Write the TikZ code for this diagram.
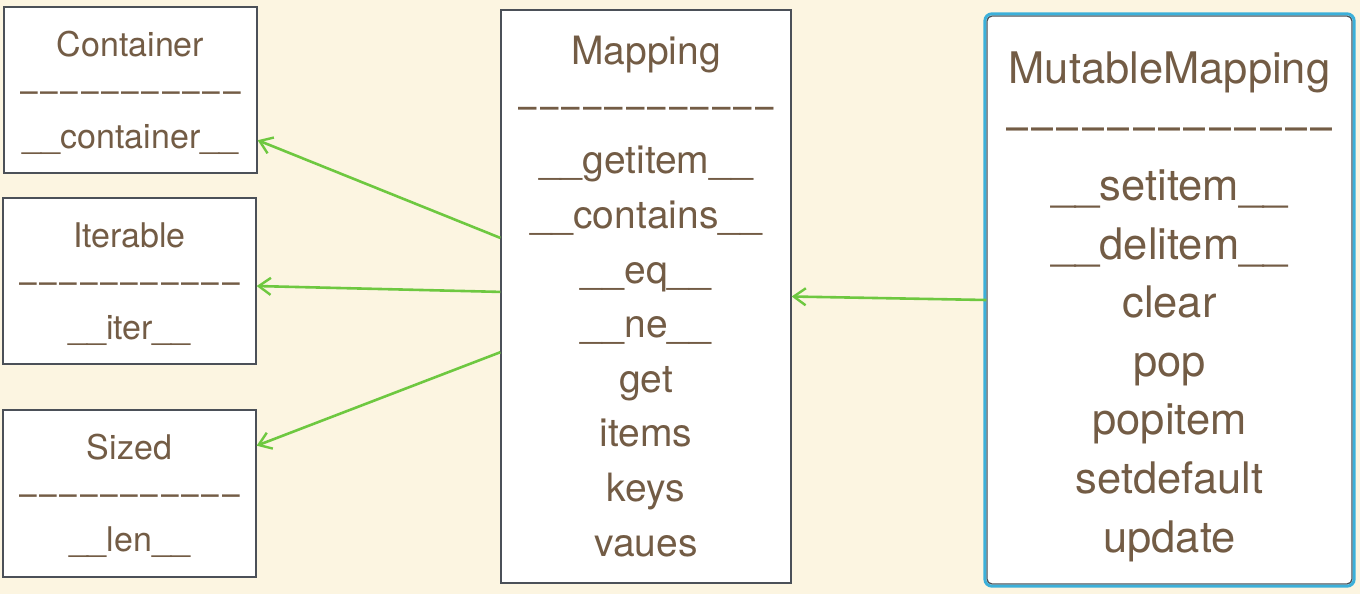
\documentclass[tikz,border=0pt]{standalone}
\usepackage{fontspec}
\setmainfont{TeX Gyre Heros}
\usepackage{graphicx}
\usetikzlibrary{calc}
\usetikzlibrary{positioning}
\usetikzlibrary{arrows.meta}

\definecolor{bgcream}{RGB}{252,245,225}
\definecolor{txtbrown}{RGB}{115,92,69}
\definecolor{boxgray}{RGB}{75,80,88}
\definecolor{arrowgreen}{RGB}{110,200,64}
\definecolor{mmblue}{RGB}{60,176,218}

\newcommand{\dashrow}[3]{\foreach \i in {1,...,#1}{\ifnum\i>1\kern#3\fi\resizebox{#2}{\height}{–}}}

\begin{document}
\begin{tikzpicture}[x=1pt,y=-1pt,
    classbox/.style={draw=boxgray,line width=1.3pt,fill=white,text=txtbrown,align=center,inner sep=0pt},
    inherit/.style={draw=arrowgreen,line width=2.6pt,-{Straight Barb[length=12pt,width=17pt,line width=2.4pt]}}]
    \fill [bgcream] (0,0) rectangle (1360,594);
    \useasboundingbox (0,0) rectangle (1360,594);

    \node [classbox,minimum width=253pt,minimum height=166pt,font=\fontsize{34}{46}\selectfont] (container) at (130.5,90)
      {\rule{0pt}{31pt}Container\\\dashrow{11}{17.7pt}{2.6pt}\\\_\_container\_\_};
    \node [classbox,minimum width=253pt,minimum height=166pt,font=\fontsize{34}{46}\selectfont] (iterable) at (129.5,281)
      {\rule{0pt}{31pt}Iterable\\\dashrow{11}{17.7pt}{2.6pt}\\\_\_iter\_\_};
    \node [classbox,minimum width=253pt,minimum height=167pt,font=\fontsize{34}{46}\selectfont] (sized) at (129.5,493.5)
      {\rule{0pt}{31pt}Sized\\\dashrow{11}{17.7pt}{2.6pt}\\\_\_len\_\_};

    \node [classbox,minimum width=290pt,minimum height=573pt,font=\fontsize{39}{54.6}\selectfont] (mapping) at (646,296.5)
      {Mapping\\\dashrow{12}{18.5pt}{3pt}\\\_\_getitem\_\_\\\_\_contains\_\_\\\_\_eq\_\_\\\_\_ne\_\_\\get\\items\\keys\\vaues};

    \node [classbox,rounded corners=5pt,minimum width=365pt,minimum height=568pt,font=\fontsize{43.5}{58.6}\selectfont] (mutable) at (1169.5,300)
      {\rule{0pt}{45pt}MutableMapping\\\dashrow{13}{22pt}{3.4pt}\\\_\_setitem\_\_\\\_\_delitem\_\_\\clear\\pop\\popitem\\setdefault\\update};
    \draw [mmblue,line width=3pt,rounded corners=7pt] ([xshift=-1.5pt,yshift=1.5pt]mutable.north west) rectangle ([xshift=1.5pt,yshift=-1.5pt]mutable.south east);

    \draw [inherit] ($(mapping.north west)!0.398!(mapping.south west)$) -- ($(container.north east)!0.8!(container.south east)$);
    \draw [inherit] ($(mapping.north west)!0.492!(mapping.south west)$) -- ($(iterable.north east)!0.53!(iterable.south east)$);
    \draw [inherit] ($(mapping.north west)!0.597!(mapping.south west)$) -- ($(sized.north east)!0.216!(sized.south east)$);
    \draw [inherit] (mutable.west) -- (mapping.east);
  \end{tikzpicture}
\end{document}
